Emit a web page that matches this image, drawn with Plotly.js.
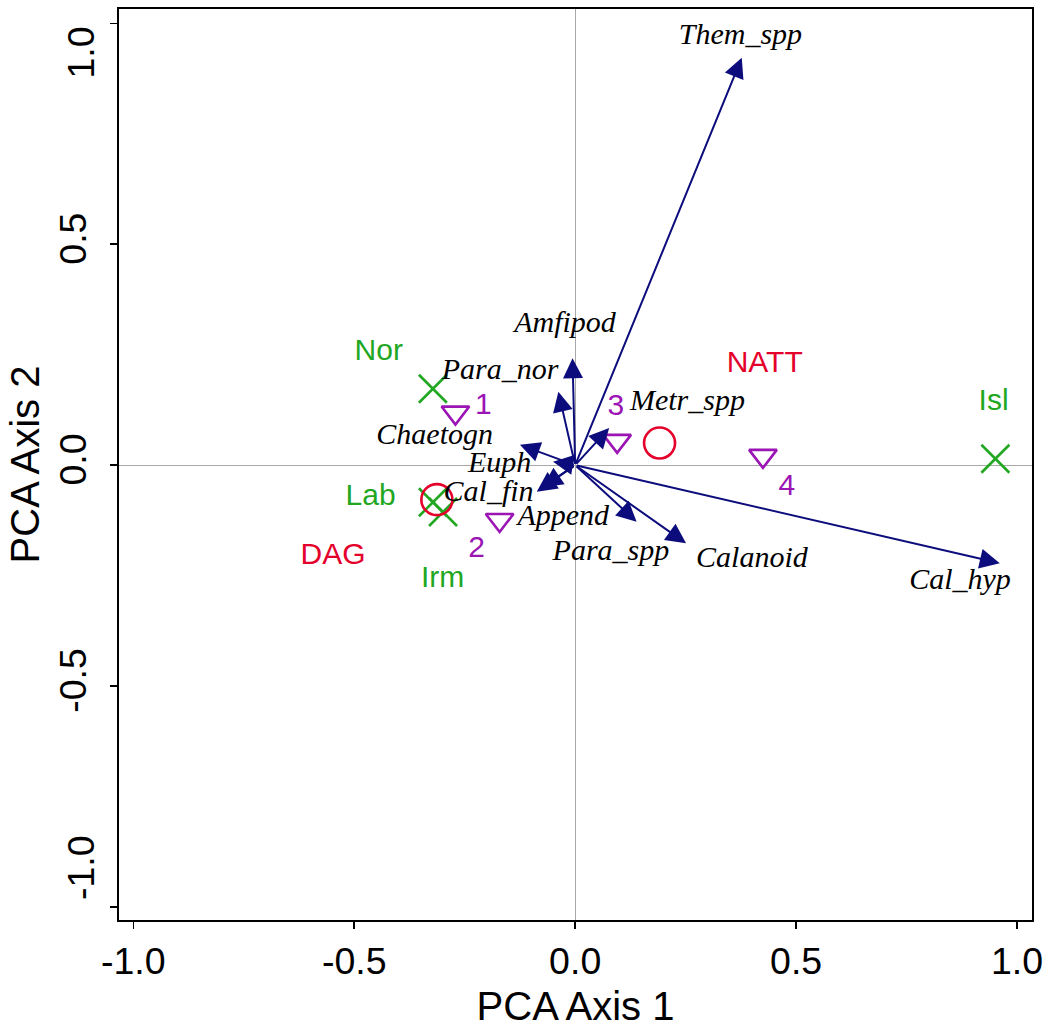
<!DOCTYPE html>
<html>
<head>
<meta charset="utf-8">
<script src="https://cdn.plot.ly/plotly-3.0.1.min.js"></script>
<style>
  html, body { margin: 0; padding: 0; background: #fff; }
  #chart { width: 1050px; height: 1028px; }
</style>
</head>
<body>
<div id="chart"></div>
<script>
// ---- Species (arrows) ----
const species   = ['Them_spp','Amfipod','Para_nor','Metr_spp','Chaetogn','Euph','Cal_fin','Append','Para_spp','Calanoid','Cal_hyp'];
const speciesX  = [0.377, -0.006, -0.038, 0.077, -0.125, -0.050, -0.087, -0.074, 0.139, 0.251, 0.961];
const speciesY  = [0.922, 0.242, 0.166, 0.084, 0.046, 0.008, -0.060, -0.050, -0.128, -0.177, -0.222];
const speciesLabX = [0.374, -0.023, -0.170, 0.254, -0.318, -0.171, -0.196, -0.027, 0.081, 0.400, 0.871];
const speciesLabY = [0.971, 0.318, 0.213, 0.141, 0.066, 0.002, -0.064, -0.119, -0.198, -0.213, -0.263];

// ---- Sites (green X) ----
const sites     = ['Nor','Lab','Irm','Isl'];
const siteX     = [-0.322, -0.322, -0.299, 0.951];
const siteY     = [0.173, -0.084, -0.106, 0.0145];
const siteLabX  = [-0.4445, -0.463, -0.300, 0.947];
const siteLabY  = [0.254, -0.074, -0.259, 0.141];

// ---- Groups (red circles) ----
const groups    = ['DAG','NATT'];
const groupX    = [-0.313, 0.191];
const groupY    = [-0.078, 0.050];
const groupLabX = [-0.548, 0.429];
const groupLabY = [-0.206, 0.228];

// ---- Clusters (purple triangles) ----
const clusters  = ['1','2','3','4'];
const clusterX  = [-0.271, -0.171, 0.095, 0.425];
const clusterY  = [0.119, -0.124, 0.055, 0.021];
const clusterLabX = [-0.208, -0.223, 0.092, 0.479];
const clusterLabY = [0.132, -0.191, 0.130, -0.051];

// ---- Axes ----
const tickVals  = [-1, -0.5, 0, 0.5, 1];
const tickText  = ['-1.0', '-0.5', '0.0', '0.5', '1.0'];

const GREEN = '#22a722', RED = '#e4002b', PURPLE = '#9b14b4', NAVY = '#0c0c7c';
const SANS = 'Liberation Sans, Arial, sans-serif';
const SERIF = 'Liberation Serif, Times New Roman, serif';

const traces = [
  { type: 'scatter', mode: 'markers', x: siteX, y: siteY, hoverinfo: 'skip',
    marker: { symbol: 'x-thin-open', size: 28, color: GREEN, line: { color: GREEN, width: 2.6 } } },
  { type: 'scatter', mode: 'markers', x: groupX, y: groupY, hoverinfo: 'skip',
    marker: { symbol: 'circle-open', size: 31, color: RED, line: { color: RED, width: 2.6 } } },
  { type: 'scatter', mode: 'markers', x: clusterX, y: clusterY, hoverinfo: 'skip',
    marker: { symbol: 'triangle-down-open', size: 24, color: PURPLE, line: { color: PURPLE, width: 2.6 } } },
  { type: 'scatter', mode: 'text', x: speciesLabX, y: speciesLabY, text: species, hoverinfo: 'skip',
    textposition: 'middle center',
    textfont: { family: SERIF, size: 30, color: '#000', style: 'italic' } },
  { type: 'scatter', mode: 'text', x: siteLabX, y: siteLabY, text: sites, hoverinfo: 'skip',
    textposition: 'middle center', textfont: { family: SANS, size: 30, color: GREEN } },
  { type: 'scatter', mode: 'text', x: groupLabX, y: groupLabY, text: groups, hoverinfo: 'skip',
    textposition: 'middle center', textfont: { family: SANS, size: 30, color: RED } },
  { type: 'scatter', mode: 'text', x: clusterLabX, y: clusterLabY, text: clusters, hoverinfo: 'skip',
    textposition: 'middle center', textfont: { family: SANS, size: 30, color: PURPLE } }
];

const annotations = species.map((s, i) => ({
  x: speciesX[i], y: speciesY[i], xref: 'x', yref: 'y',
  ax: 0, ay: 0, axref: 'x', ayref: 'y',
  text: '', showarrow: true, arrowhead: 2, arrowsize: 2.0, arrowwidth: 2,
  arrowcolor: NAVY, standoff: 0, startstandoff: 0
}));

// The extreme y tick labels sit inside the axis span in the reference,
// so they are drawn as text next to the axis instead of as tick labels.
const yTickTextShown = tickText.map((t, i) => (i === 0 || i === tickText.length - 1) ? ' ' : t);
annotations.push(
  { xref: 'paper', yref: 'paper', x: 0, y: (920 - 868) / 911, xshift: -38, xanchor: 'center', yanchor: 'middle',
    text: tickText[0], textangle: -90, showarrow: false, font: { family: SANS, size: 37.5, color: '#000' } },
  { xref: 'paper', yref: 'paper', x: 0, y: (920 - 52.5) / 911, xshift: -38, xanchor: 'center', yanchor: 'middle',
    text: tickText[tickText.length - 1], textangle: -90, showarrow: false, font: { family: SANS, size: 37.5, color: '#000' } }
);

const axisCommon = {
  showgrid: false, zeroline: true, zerolinecolor: '#a8a8a8', zerolinewidth: 1,
  showline: true, mirror: true, linecolor: '#000', linewidth: 2,
  ticks: 'outside', ticklen: 7, tickwidth: 1.5, tickcolor: '#000',
  tickvals: tickVals,
  tickfont: { family: SANS, size: 37.5, color: '#000' }
};

const layout = {
  width: 1050, height: 1028,
  margin: { l: 119, r: 18, t: 9, b: 108 },
  paper_bgcolor: '#fff', plot_bgcolor: '#fff',
  showlegend: false,
  font: { family: SANS },
  xaxis: Object.assign({}, axisCommon, {
    range: [-1.0324, 1.0339],
    ticktext: tickText,
    ticklabelstandoff: 0,
    title: { text: 'PCA Axis 1', font: { family: SANS, size: 40, color: '#000' }, standoff: 20 }
  }),
  yaxis: Object.assign({}, axisCommon, {
    range: [-1.0294, 1.0324],
    ticktext: yTickTextShown,
    tickangle: -90,
    ticklabelstandoff: 9,
    title: { text: 'PCA Axis 2', font: { family: SANS, size: 40, color: '#000' }, standoff: 0 }
  }),
  annotations: annotations
};

Plotly.newPlot('chart', traces, layout, { staticPlot: true, displayModeBar: false });
</script>
</body>
</html>
